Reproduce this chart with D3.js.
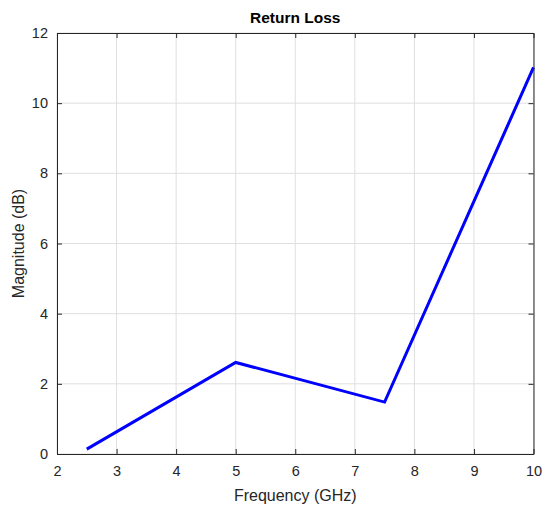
<!DOCTYPE html>
<html>
<head>
<meta charset="utf-8">
<script src="https://cdnjs.cloudflare.com/ajax/libs/d3/7.8.5/d3.min.js"></script>
<style>
    body { margin: 0; background: #fff; }
    text { font-family: "Liberation Sans", Arial, sans-serif; }
</style>
</head>
<body>
<script>
// data
var freq = [2.5, 5, 7.5, 10];
var magnitude = [0.14, 2.61, 1.48, 11.02];
var xTicks = [2, 3, 4, 5, 6, 7, 8, 9, 10];
var yTicks = [0, 2, 4, 6, 8, 10, 12];

var svgWidth = 545;
var svgHeight = 506;

var margin = {
    top: 33,
    right: 12,
    bottom: 52,
    left: 57
};

var chartWidth = 533.5 - margin.left;
var chartHeight = 454 - margin.top;

var svg = d3.select("body")
    .append("svg")
    .attr("width", svgWidth)
    .attr("height", svgHeight);

var chartGroup = svg.append("g")
    .attr("transform", `translate(${margin.left},${margin.top})`);

var xLinearScale = d3.scaleLinear()
    .domain([2, 10])
    .range([0, chartWidth]);

var yLinearScale = d3.scaleLinear()
    .domain([0, 12])
    .range([chartHeight, 0]);

// grid lines
chartGroup.append("g")
    .selectAll("line")
    .data(xTicks)
    .enter()
    .append("line")
    .attr("x1", d => xLinearScale(d))
    .attr("x2", d => xLinearScale(d))
    .attr("y1", 0)
    .attr("y2", chartHeight)
    .attr("stroke", "#dfdfdf")
    .attr("stroke-width", 1);

chartGroup.append("g")
    .selectAll("line")
    .data(yTicks)
    .enter()
    .append("line")
    .attr("x1", 0)
    .attr("x2", chartWidth)
    .attr("y1", d => yLinearScale(d))
    .attr("y2", d => yLinearScale(d))
    .attr("stroke", "#dfdfdf")
    .attr("stroke-width", 1);

// line
var line = d3.line()
    .x((d, i) => xLinearScale(freq[i]))
    .y(d => yLinearScale(d));

chartGroup.append("path")
    .datum(magnitude)
    .attr("d", line)
    .attr("fill", "none")
    .attr("stroke", "#0000ff")
    .attr("stroke-width", 3);

// axes with inward ticks
function styleAxis(g) {
    g.select(".domain").attr("stroke", "#262626");
    g.selectAll(".tick line").attr("stroke", "#262626");
    g.selectAll(".tick text")
        .attr("fill", "#262626")
        .attr("font-size", 14.5);
}

var bottomAxis = d3.axisBottom(xLinearScale)
    .tickValues(xTicks)
    .tickFormat(d3.format("d"))
    .tickSizeInner(-5)
    .tickSizeOuter(0)
    .tickPadding(12);

var leftAxis = d3.axisLeft(yLinearScale)
    .tickValues(yTicks)
    .tickFormat(d3.format("d"))
    .tickSizeInner(-5)
    .tickSizeOuter(0)
    .tickPadding(9);

var topAxis = d3.axisTop(xLinearScale)
    .tickValues(xTicks)
    .tickFormat("")
    .tickSizeInner(-5)
    .tickSizeOuter(0);

var rightAxis = d3.axisRight(yLinearScale)
    .tickValues(yTicks)
    .tickFormat("")
    .tickSizeInner(-5)
    .tickSizeOuter(0);

chartGroup.append("g")
    .attr("transform", `translate(0, ${chartHeight})`)
    .call(bottomAxis)
    .call(styleAxis);

chartGroup.append("g")
    .call(leftAxis)
    .call(styleAxis);

chartGroup.append("g")
    .call(topAxis)
    .call(styleAxis);

chartGroup.append("g")
    .attr("transform", `translate(${chartWidth}, 0)`)
    .call(rightAxis)
    .call(styleAxis);

// title and axis labels
chartGroup.append("text")
    .attr("x", chartWidth / 2)
    .attr("y", -10)
    .attr("text-anchor", "middle")
    .attr("font-size", 15.5)
    .attr("font-weight", "bold")
    .attr("fill", "#000")
    .text("Return Loss");

chartGroup.append("text")
    .attr("x", chartWidth / 2)
    .attr("y", chartHeight + 47)
    .attr("text-anchor", "middle")
    .attr("font-size", 16)
    .attr("fill", "#262626")
    .text("Frequency (GHz)");

chartGroup.append("text")
    .attr("transform", "rotate(-90)")
    .attr("x", -chartHeight / 2)
    .attr("y", -33)
    .attr("text-anchor", "middle")
    .attr("font-size", 16)
    .attr("fill", "#262626")
    .text("Magnitude (dB)");
</script>
</body>
</html>
